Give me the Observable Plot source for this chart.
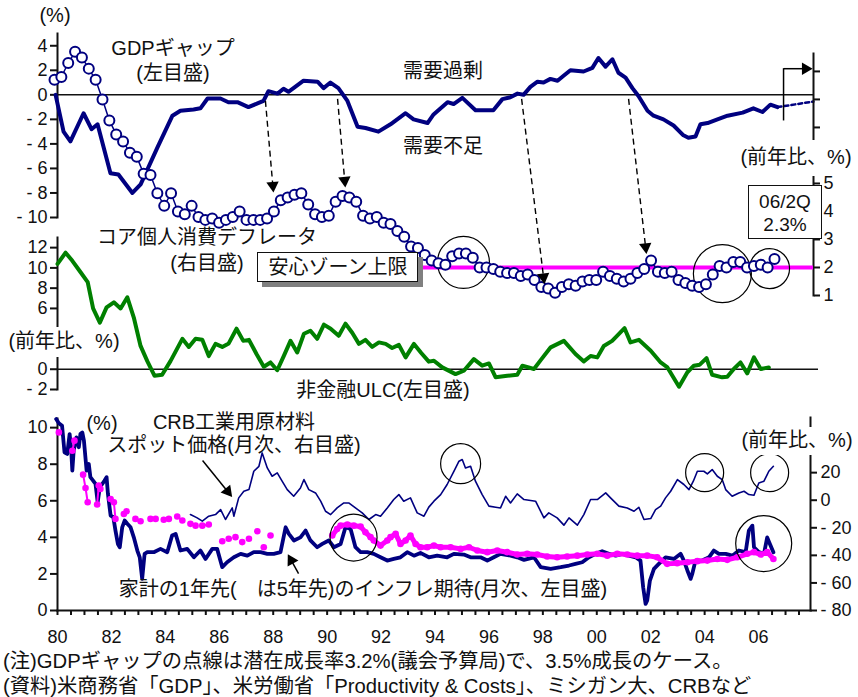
<!DOCTYPE html>
<html><head><meta charset="utf-8">
<script src="https://cdn.jsdelivr.net/npm/d3@7"></script>
<script src="https://cdn.jsdelivr.net/npm/@observablehq/plot@0.6"></script>
<style>
body{margin:0;background:#fff;}
#chart{position:relative;width:858px;height:697px;overflow:hidden;font-family:"Liberation Sans","Noto Sans CJK JP",Arial,sans-serif;color:#111;}
#chart svg{position:absolute;left:0;top:0;overflow:visible;max-width:none;}
.lbl{position:absolute;white-space:pre;font-size:20px;line-height:1;transform:translate(-50%,-50%);}
.lft{position:absolute;white-space:pre;font-size:20.3px;line-height:1;transform:translate(0,-50%);}
.box{position:absolute;background:#fff;box-sizing:border-box;}
</style></head><body><div id="chart"></div>
<script>
// ---------------- data ----------------
// GDP gap (% , left axis, top panel) : [year, value]
const gdpGap = [[1980.04,0.0],[1980.33,-3.0],[1980.58,-3.8],[1981.06,-1.5],[1981.35,-2.8],[1981.57,-2.4],[1982.04,-6.4],[1982.33,-6.5],[1982.84,-8.0],[1983.14,-7.3],[1983.75,-4.3],[1984.30,-1.7],[1984.59,-1.3],[1985.07,-1.2],[1985.32,-1.1],[1985.58,-0.3],[1986.05,-0.3],[1986.34,-0.6],[1986.67,-0.6],[1987.07,-1.0],[1987.40,-0.7],[1987.62,-0.5],[1987.80,0.3],[1988.13,0.1],[1988.35,0.5],[1988.53,0.25],[1989.08,1.15],[1989.59,1.07],[1989.81,0.55],[1990.06,1.0],[1990.35,0.55],[1990.68,-0.5],[1991.05,-2.6],[1991.34,-2.7],[1991.81,-3.0],[1992.25,-2.4],[1992.80,-1.5],[1993.09,-2.0],[1993.60,-2.3],[1993.82,-1.6],[1994.33,-0.6],[1994.55,-0.75],[1994.87,-0.25],[1995.35,-1.25],[1996.00,-1.25],[1996.33,-0.35],[1996.62,-0.2],[1996.88,0.1],[1997.10,0.0],[1997.35,0.65],[1997.61,1.07],[1997.83,1.0],[1998.08,1.3],[1998.34,1.15],[1998.56,1.55],[1998.81,2.0],[1999.29,1.9],[1999.61,2.2],[1999.83,3.0],[2000.09,2.3],[2000.34,2.9],[2000.56,1.8],[2000.82,1.4],[2001.07,0.55],[2001.29,-0.1],[2001.62,-1.3],[2001.84,-1.7],[2002.20,-2.0],[2002.57,-2.5],[2002.93,-3.3],[2003.11,-3.5],[2003.37,-3.4],[2003.55,-2.4],[2003.81,-2.3],[2004.17,-2.0],[2004.54,-1.7],[2005.09,-1.45],[2005.48,-1.1],[2005.81,-1.4],[2006.10,-0.8],[2006.36,-1.0]];
// GDP gap dotted case (3.5% growth)
const gdpGapProjection = [[2006.36,-1.0],[2007.67,-0.55]];

// core PCE deflator (% y/y, right axis), quarterly 1980Q1 - 2006Q2
const corePCE = [8.7,8.8,9.3,9.7,9.5,9.1,8.7,8.0,7.25,6.75,
6.5,6.1,5.95,5.35,5.3,4.65,4.2,4.65,4.0,3.9,
4.2,3.8,3.7,3.75,3.6,3.7,3.8,4.0,3.7,3.7,
3.7,3.75,4.0,4.4,4.5,4.6,4.65,4.25,3.9,3.8,
3.85,4.35,4.55,4.5,4.35,3.85,3.75,3.8,3.6,3.55,
3.3,3.1,2.75,2.7,2.45,2.25,2.15,2.1,2.4,2.5,
2.5,2.35,2.0,2.0,1.95,1.85,1.8,1.8,1.7,1.75,
1.55,1.3,1.25,1.1,1.3,1.4,1.35,1.5,1.55,1.55,
1.85,1.7,1.6,1.5,1.6,1.8,1.95,2.25,1.85,1.8,
1.85,1.55,1.45,1.35,1.3,1.4,1.75,2.05,2.0,2.2,
2.2,2.0,2.05,2.1,2.0,2.3];
const pceQuarters = corePCE.map((_, i) => 1980 + i / 4);
const comfortZoneUpper = 2;

// non-financial ULC (% y/y, left axis, middle panel)
const ulc = [[1980.00,10.4],[1980.30,11.5],[1980.55,10.7],[1980.85,9.6],[1981.12,8.6],[1981.32,6.0],[1981.57,4.6],[1981.82,6.1],[1982.09,6.6],[1982.34,6.0],[1982.59,7.1],[1982.83,5.1],[1983.08,2.3],[1983.33,0.8],[1983.60,-0.65],[1983.88,-0.55],[1984.19,0.8],[1984.63,3.0],[1984.87,2.2],[1985.12,3.0],[1985.37,2.9],[1985.61,1.3],[1985.86,2.5],[1986.11,2.2],[1986.35,2.55],[1986.64,4.0],[1986.89,2.8],[1987.10,2.9],[1987.38,1.5],[1987.65,0.25],[1987.90,0.67],[1988.15,-0.1],[1988.39,1.3],[1988.64,2.8],[1988.89,1.65],[1989.14,3.5],[1989.38,3.8],[1989.63,3.0],[1989.88,4.4],[1990.13,4.0],[1990.43,3.3],[1990.68,4.5],[1990.93,3.6],[1991.18,2.5],[1991.42,2.9],[1991.67,2.2],[1991.92,2.65],[1992.17,2.5],[1992.41,2.1],[1992.66,2.4],[1992.91,1.17],[1993.22,2.5],[1993.49,1.6],[1993.77,0.75],[1993.96,0.84],[1994.27,0.18],[1994.76,-0.48],[1995.07,-0.15],[1995.44,1.0],[1995.75,0.35],[1996.00,0.57],[1996.25,-0.8],[1996.68,-0.65],[1997.05,-0.55],[1997.24,0.35],[1997.67,0.02],[1997.92,0.9],[1998.29,2.16],[1998.78,2.8],[1999.21,1.5],[1999.52,0.77],[1999.77,1.3],[2000.02,1.17],[2000.26,2.3],[2000.57,2.8],[2001.03,4.05],[2001.25,2.65],[2001.56,2.9],[2002.00,1.83],[2002.37,0.67],[2002.62,0.18],[2003.05,-1.73],[2003.36,-0.3],[2003.60,0.35],[2003.82,0.45],[2004.07,1.1],[2004.28,-0.55],[2004.65,-0.8],[2004.84,-0.75],[2005.08,0.02],[2005.33,0.67],[2005.58,-0.41],[2005.83,1.17],[2006.08,0.02],[2006.38,0.18]];

// household 1-year-ahead inflation expectations (%, left axis, bottom panel)
const expect1y = [[1979.95,10.47],[1980.05,10.24],[1980.17,10.1],[1980.26,8.65],[1980.36,8.56],[1980.45,9.65],[1980.51,8.74],[1980.55,7.65],[1980.60,8.74],[1980.70,9.47],[1980.79,8.93],[1980.85,9.65],[1980.92,9.74],[1980.98,9.29],[1981.08,7.65],[1981.16,8.01],[1981.22,7.29],[1981.32,7.10],[1981.41,6.92],[1981.49,5.92],[1981.57,6.74],[1981.66,6.92],[1981.74,7.10],[1981.82,7.29],[1981.87,6.38],[1981.97,5.19],[1982.07,5.10],[1982.15,4.37],[1982.24,3.64],[1982.31,3.46],[1982.40,4.55],[1982.49,4.92],[1982.59,4.74],[1982.71,4.55],[1982.83,4.0],[1982.96,3.28],[1983.05,2.91],[1983.14,1.73],[1983.23,3.10],[1983.33,3.19],[1983.57,3.19],[1983.82,3.37],[1984.07,3.19],[1984.25,4.1],[1984.38,4.19],[1984.56,3.28],[1984.81,3.37],[1985.06,2.91],[1985.30,3.28],[1985.49,2.82],[1985.74,3.37],[1985.92,3.37],[1986.11,2.37],[1986.29,2.64],[1986.54,2.91],[1986.79,3.10],[1987.04,3.0],[1987.28,3.19],[1987.53,3.19],[1987.78,3.10],[1988.02,3.10],[1988.27,3.19],[1988.46,4.55],[1988.58,4.19],[1988.77,3.83],[1989.01,4.0],[1989.20,4.37],[1989.38,3.83],[1989.63,3.46],[1989.82,3.64],[1990.06,3.83],[1990.25,3.46],[1990.50,3.64],[1990.68,4.55],[1990.87,4.46],[1991.05,3.46],[1991.24,3.19],[1991.49,3.19],[1991.73,3.10],[1991.98,2.91],[1992.23,2.73],[1992.47,2.82],[1992.72,2.91],[1992.97,3.19],[1993.22,3.0],[1993.46,3.15],[1993.77,2.91],[1994.08,3.0],[1994.45,2.91],[1994.70,3.10],[1995.07,3.06],[1995.32,2.91],[1995.69,2.91],[1995.94,2.73],[1996.18,2.91],[1996.43,3.10],[1996.80,3.0],[1997.05,2.91],[1997.30,2.77],[1997.67,2.91],[1997.92,2.37],[1998.29,2.28],[1998.66,2.37],[1998.97,2.46],[1999.21,2.55],[1999.46,2.64],[1999.71,2.91],[1999.96,3.10],[2000.20,3.24],[2000.45,3.10],[2000.70,3.0],[2000.95,3.10],[2001.19,3.0],[2001.44,2.91],[2001.62,2.73],[2001.72,1.27],[2001.81,0.36],[2001.87,0.55],[2001.97,1.64],[2002.12,2.28],[2002.30,2.55],[2002.55,2.91],[2002.86,2.82],[2003.11,3.10],[2003.23,2.73],[2003.36,2.19],[2003.48,1.73],[2003.54,2.0],[2003.66,2.73],[2003.91,2.73],[2004.16,2.91],[2004.34,3.28],[2004.53,3.10],[2004.78,3.10],[2005.03,3.0],[2005.27,3.28],[2005.52,3.19],[2005.64,4.37],[2005.77,4.64],[2005.83,3.46],[2006.01,3.19],[2006.20,3.10],[2006.32,4.0],[2006.42,3.64],[2006.55,3.19]];

// household 5-year-ahead inflation expectations (%, left axis); null = gap in survey
const expect5y = [[1980.05,9.74],null,[1980.55,8.74],[1980.63,9.29],null,[1980.95,7.43],[1981.04,6.70],[1981.12,5.92],null,[1981.47,5.80],[1981.53,6.83],[1981.59,6.65],null,[1981.97,6.10],[1982.09,5.92],[1982.15,5.01],null,[1982.46,5.28],[1982.56,5.43],null,[1982.89,5.01],[1983.08,4.88],null,[1983.45,5.01],[1983.64,5.01],null,[1983.94,4.96],[1984.13,5.01],null,[1984.44,5.14],[1984.63,4.92],null,[1984.93,4.74],[1985.12,4.64],null,[1985.37,4.64],[1985.61,4.70],null,[1986.11,3.79],null,[1986.35,3.92],null,[1986.60,4.01],null,[1986.85,3.74],null,[1987.10,3.92],null,[1987.41,4.33],null,[1987.65,3.46],null,[1987.90,4.10],null,
[1990.19,4.1],[1990.37,4.46],[1990.50,4.64],[1990.75,4.70],[1990.99,4.64],[1991.24,4.59],[1991.42,4.28],[1991.61,4.01],[1991.73,3.83],[1991.98,3.55],[1992.23,3.83],[1992.35,4.01],[1992.54,4.19],[1992.72,3.64],[1992.91,3.83],[1993.09,4.10],[1993.28,3.64],[1993.46,3.46],[1993.71,3.46],[1993.96,3.55],[1994.21,3.46],[1994.58,3.46],[1994.95,3.37],[1995.26,3.46],[1995.57,3.28],[1995.94,3.19],[1996.31,3.28],[1996.68,3.19],[1997.05,3.06],[1997.42,3.10],[1997.79,3.06],[1998.16,2.95],[1998.53,2.91],[1998.90,2.95],[1999.28,3.0],[1999.65,3.06],[2000.02,3.10],[2000.39,3.0],[2000.76,3.10],[2001.13,3.06],[2001.50,3.0],[2001.87,3.0],[2002.24,2.91],[2002.61,2.55],[2002.98,2.59],[2003.36,2.64],[2003.73,2.70],[2004.10,2.73],[2004.47,2.82],[2004.84,2.77],[2005.21,2.91],[2005.58,3.10],[2005.83,3.19],[2006.08,3.06],[2006.32,3.19],[2006.55,2.82]];

// CRB raw industrials spot price (% y/y, right axis, bottom panel)
const crb = [[1984.93,-10.4],[1985.18,-12.8],[1985.37,-15.2],[1985.61,-11.6],[1985.86,-10.4],[1986.05,-6.8],[1986.23,-14.0],[1986.48,-5.6],[1986.54,-11.6],[1986.72,1.7],[1986.91,6.5],[1987.10,7.7],[1987.28,21],[1987.47,24.6],[1987.59,34.3],[1987.78,23.4],[1987.96,17.4],[1988.15,19.8],[1988.33,13.8],[1988.52,7.7],[1988.76,2.9],[1989.01,8.9],[1989.14,15],[1989.32,7.7],[1989.57,5.3],[1989.76,-0.7],[1989.94,-8],[1990.13,-10.4],[1990.37,-5.6],[1990.62,-2],[1990.80,-2],[1991.05,-5.6],[1991.30,-9.2],[1991.55,-14],[1991.80,-10.4],[1991.98,-11.6],[1992.23,-5.6],[1992.47,0.5],[1992.66,4.1],[1992.84,-0.7],[1993.09,1.7],[1993.34,-9.2],[1993.59,-11.6],[1993.77,-5],[1993.96,-0.7],[1994.21,4.1],[1994.45,11.4],[1994.70,21],[1994.89,28.3],[1995.01,29.5],[1995.13,23.4],[1995.32,24.6],[1995.50,13.8],[1995.75,4.1],[1996.00,-4.3],[1996.25,-5.1],[1996.43,-5.6],[1996.62,2.9],[1996.80,-2],[1997.05,4.6],[1997.30,0.5],[1997.73,-0.7],[1998.04,-12.8],[1998.22,-9.2],[1998.53,-12.8],[1998.78,-18.1],[1998.97,-12.8],[1999.28,-18.1],[1999.52,-10.4],[1999.77,0.5],[2000.02,0.5],[2000.33,5.3],[2000.51,1.7],[2000.82,-4.3],[2001.13,-5.6],[2001.38,-8],[2001.56,-5.1],[2001.75,-14],[2002.00,-13.3],[2002.18,-6.8],[2002.37,-4.3],[2002.55,1.7],[2002.74,6.5],[2002.99,15],[2003.23,11.4],[2003.42,7.7],[2003.58,13.8],[2003.73,21],[2003.97,21],[2004.10,19.1],[2004.28,22.2],[2004.47,17.4],[2004.65,15],[2004.78,7.7],[2005.02,2.9],[2005.27,5.3],[2005.46,6.5],[2005.64,4.1],[2005.83,3.6],[2006.01,12.5],[2006.20,13.8],[2006.32,18.6],[2006.38,21],[2006.55,24.6]];

// axis ticks
const gdpTicks = [-10,-8,-6,-4,-2,0,2,4];
const pceTicks = [1,2,3,4,5,6,7,8,9];
const ulcTicks = [-2,0,2,4,6,8,10,12];
const expTicks = [0,2,4,6,8,10];
const crbTicks = [-80,-60,-40,-20,0,20];
const yearLabels = [1980,1982,1984,1986,1988,1990,1992,1994,1996,1998,2000,2002,2004,2006];
const halfYears = d3.range(1980, 2007.51, 0.5);

// annotations (data coordinates)
const gapArrows = [
  {x1:1987.69,y1:-0.49,x2:1987.96,y2:-7.39,rot:175},
  {x1:1990.32,y1:-0.33,x2:1990.58,y2:-6.98,rot:175},
  {x1:1997.03,y1:-0.33,x2:1997.83,y2:-14.86,rot:173},
  {x1:2000.93,y1:-0.33,x2:2001.55,y2:-12.4,rot:173.4}];
const latestMarkV = [{x:2006.58,y1:-2.13,y2:2.13}];
const latestMarkH = [{x1:2006.58,x2:2007.38,y:2.13,rot:90}];
const ringsTop = [{x:1994.91,y:2.18,r:26},{x:2004.35,y:1.78,r:29},{x:2006.07,y:1.96,r:20}];
const ringsBottom = [{x:1990.98,y:3.99,r:23.5},{x:1994.95,y:8.03,r:20},{x:2004.0,y:7.54,r:19},{x:2006.41,y:7.54,r:19},{x:2006.19,y:3.66,r:28}];
const bottomArrows = [{x1:1985.38,y1:8.2,x2:1986.31,y2:6.51,rot:141},{x1:1988.94,y1:2.02,x2:1988.67,y2:2.74,rot:-29}];

// ---------------- drawing ----------------
const W = 858, H = 645;
const NAVY = "#000080", GREEN = "#008000", MAGENTA = "#ff00ff";
const FONT = '"Liberation Sans","Noto Sans CJK JP",Arial,sans-serif';
const neg = d => d < 0 ? "- " + Math.abs(d) : String(d);
const topX = {domain:[1980, 2006.25], range:[54, 774], axis:null};
const botX = {domain:[1980, 2008], range:[57, 812]};
const chart = document.getElementById("chart");
const X = d => d ? d[0] : NaN, Y = d => d ? d[1] : NaN;

function layer(opts) {
  const svg = Plot.plot({width: W, height: H,
    style: {background: "transparent", fontFamily: FONT, fontSize: "18px", color: "#111", overflow: "visible"},
    ...opts});
  chart.appendChild(svg);
}

// top panel: GDP gap
layer({
  marginLeft:57, marginRight:45, marginTop:33, marginBottom:H-217,
  x: topX, y: {domain:[-10, 5]},
  marks: [
    Plot.frame({anchor:"left", strokeWidth:2}),
    Plot.axisY({anchor:"left", ticks:gdpTicks, tickSize:7, tickPadding:3, tickFormat:neg, strokeWidth:2, label:null, fontSize:18}),
    Plot.ruleY([0], {strokeWidth:1.5}),
    Plot.line(gdpGap, {x:X, y:Y, stroke:NAVY, strokeWidth:4, strokeLinejoin:"round"}),
    Plot.line(gdpGapProjection, {x:X, y:Y, stroke:NAVY, strokeWidth:2.5, strokeDasharray:"4,3"})
  ]
});

// top panel: core PCE deflator
layer({
  marginLeft:57, marginRight:45, marginTop:53, marginBottom:H-295,
  x: topX, y: {domain:[1, 9.64]}, r: {type:"identity"},
  marks: [
    Plot.frame({anchor:"right", strokeWidth:2}),
    Plot.axisY({anchor:"right", ticks:pceTicks, tickSize:6, tickPadding:4, tickFormat:d => d <= 5 ? String(d) : "", strokeWidth:2, label:null, fontSize:18}),
    Plot.ruleY([comfortZoneUpper], {x1:1987.5, x2:2007.67, stroke:MAGENTA, strokeWidth:4}),
    Plot.dot(ringsTop, {x:"x", y:"y", r:"r", stroke:"black", strokeWidth:1.2, fill:"none"}),
    Plot.line(corePCE, {x:(d,i) => pceQuarters[i], y:d => d, stroke:NAVY, strokeWidth:1.5}),
    Plot.dot(corePCE, {x:(d,i) => pceQuarters[i], y:d => d, r:5, fill:"white", stroke:NAVY, strokeWidth:2})
  ]
});

// top panel annotations (GDP scale)
layer({
  marginLeft:57, marginRight:45, marginTop:33, marginBottom:H-217,
  x: topX, y: {domain:[-10, 5], axis:null},
  marks: [
    Plot.link(gapArrows, {x1:"x1", y1:"y1", x2:"x2", y2:"y2", stroke:"black", strokeWidth:1.4, strokeDasharray:"6,4"}),
    Plot.dot(gapArrows, {x:"x2", y:"y2", symbol:"triangle", r:4.6, fill:"black", rotate:"rot"}),
    Plot.ruleX(latestMarkV, {x:"x", y1:"y1", y2:"y2", stroke:"black", strokeWidth:1.5}),
    Plot.link(latestMarkH, {x1:"x1", x2:"x2", y1:"y", y2:"y", stroke:"black", strokeWidth:1.5}),
    Plot.dot(latestMarkH, {x:"x2", y:"y", symbol:"triangle", r:4.6, fill:"black", rotate:"rot"})
  ]
});

// middle panel: ULC (labels 2 and 4 sit under the unit label)
layer({
  marginLeft:57, marginRight:40, marginTop:237, marginBottom:H-389,
  x: {...botX, axis:null}, y: {domain:[-2, 13]},
  marks: [
    Plot.frame({anchor:"left", strokeWidth:2}),
    Plot.axisY({anchor:"left", ticks:ulcTicks, tickSize:7, tickPadding:3, tickFormat:d => (d === 2 || d === 4) ? "" : neg(d), strokeWidth:2, label:null, fontSize:18}),
    Plot.ruleY([0], {strokeWidth:1.5}),
    Plot.line(ulc, {x:X, y:Y, stroke:GREEN, strokeWidth:4, strokeLinejoin:"round"})
  ]
});

// bottom panel: CRB (right axis)
layer({
  marginLeft:57, marginRight:48, marginTop:417, marginBottom:35,
  x: {...botX, axis:null}, y: {domain:[-80, 60]},
  marks: [
    Plot.frame({anchor:"right", strokeWidth:2}),
    Plot.axisY({anchor:"right", ticks:crbTicks, tickSize:6, tickPadding:4, tickFormat:neg, strokeWidth:2, label:null, fontSize:18}),
    Plot.line(crb, {x:X, y:Y, stroke:NAVY, strokeWidth:1.6, strokeLinejoin:"round"})
  ]
});

// bottom panel: inflation expectations (left axis) + x axis
layer({
  marginLeft:57, marginRight:48, marginTop:418, marginBottom:35,
  x: botX, y: {domain:[0, 10.5]}, r: {type:"identity"},
  marks: [
    Plot.frame({anchor:"left", strokeWidth:2}),
    Plot.frame({anchor:"bottom", strokeWidth:2}),
    Plot.axisY({anchor:"left", ticks:expTicks, tickSize:7, tickPadding:3, label:null, strokeWidth:2, fontSize:18}),
    Plot.axisX({anchor:"bottom", ticks:halfYears, tickSize:5, tickFormat:() => "", strokeWidth:2, label:null}),
    Plot.axisX({anchor:"bottom", ticks:yearLabels, tickSize:0, tickPadding:20, tickFormat:d => String(d % 100).padStart(2, "0"), label:null, fontSize:18}),
    Plot.line(expect1y, {x:X, y:Y, stroke:NAVY, strokeWidth:3.8, strokeLinejoin:"round"}),
    Plot.line(expect5y.filter(d => !d || d[0] < 1990), {x:X, y:Y, stroke:MAGENTA, strokeWidth:2}),
    Plot.line(expect5y.filter(d => d && d[0] >= 1990), {x:X, y:Y, stroke:MAGENTA, strokeWidth:5}),
    Plot.dot(expect5y.filter(d => d), {x:X, y:Y, r:3.3, fill:MAGENTA}),
    Plot.dot(ringsBottom, {x:"x", y:"y", r:"r", stroke:"black", strokeWidth:1.2, fill:"none"}),
    Plot.link(bottomArrows, {x1:"x1", y1:"y1", x2:"x2", y2:"y2", stroke:"black", strokeWidth:1.5}),
    Plot.dot(bottomArrows, {x:"x2", y:"y2", symbol:"triangle", r:4.6, fill:"black", rotate:"rot"})
  ]
});

// ---------------- text (HTML) ----------------
function add(cls, text, x, y, extra) {
  const el = document.createElement("div");
  el.className = cls; el.textContent = text;
  el.style.left = x + "px"; el.style.top = y + "px";
  if (extra) Object.assign(el.style, extra);
  chart.appendChild(el); return el;
}
function box(l, t, w, h, extra) {
  const el = document.createElement("div");
  el.className = "box";
  Object.assign(el.style, {left:l+"px", top:t+"px", width:w+"px", height:h+"px"}, extra || {});
  chart.appendChild(el); return el;
}
// white cut-outs behind axis unit labels
box(735, 140, 123, 36); box(0, 327, 126, 30); box(738, 427, 120, 28);
add("lbl", "(前年比、%)", 796, 157);
add("lbl", "(前年比、%)", 64, 341);
add("lbl", "(前年比、%)", 797, 440);

add("lbl", "(%)", 55, 15);
add("lbl", "GDPギャップ", 173, 48);
add("lbl", "(左目盛)", 173, 73);
add("lbl", "需要過剰", 443, 71);
add("lbl", "需要不足", 443, 146);
add("lbl", "コア個人消費デフレータ", 207, 237);
add("lbl", "(右目盛)", 207, 263);
add("lbl", "非金融ULC(左目盛)", 383, 390);
add("lbl", "(%)", 102, 423);
add("lbl", "CRB工業用原材料", 234, 422);
add("lbl", "スポット価格(月次、右目盛)", 234, 445);
add("lbl", "家計の1年先(　は5年先)のインフレ期待(月次、左目盛)", 363, 589);

box(748, 185, 74, 54, {border:"1.5px solid #111"});
add("lbl", "06/2Q", 785, 201, {fontSize:"19px"});
add("lbl", "2.3%", 785, 224, {fontSize:"19px"});

box(257, 252, 161, 30, {border:"1.5px solid #111", boxShadow:"5px 5px 0 #808080"});
add("lbl", "安心ゾーン上限", 338, 267);

add("lft", "(注)GDPギャップの点線は潜在成長率3.2%(議会予算局)で、3.5%成長のケース。", 3, 661);
add("lft", "(資料)米商務省「GDP」、米労働省「Productivity & Costs」、ミシガン大、CRBなど", 3, 686);
</script></body></html>
